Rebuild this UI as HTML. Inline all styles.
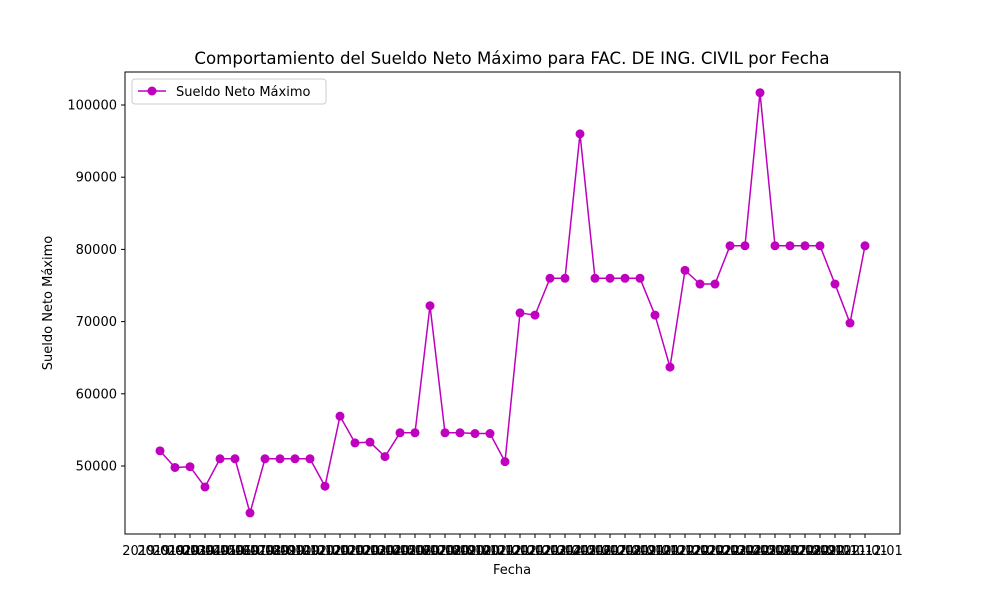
<!DOCTYPE html>
<html><head><meta charset="utf-8"><style>
body{margin:0;background:#fff;font-family:"Liberation Sans","DejaVu Sans",sans-serif}
svg text{font-family:"DejaVu Sans","Liberation Sans",sans-serif}
</style></head><body>
<svg id="c" width="1000" height="600" xmlns="http://www.w3.org/2000/svg">
<rect width="1000" height="600" fill="#fff"/>
<text x="512" y="64" font-size="16.6" text-anchor="middle">Comportamiento del Sueldo Neto Máximo para FAC. DE ING. CIVIL por Fecha</text>
<text x="512" y="574" font-size="13" text-anchor="middle">Fecha</text>
<text transform="translate(52,303) rotate(-90)" font-size="13" text-anchor="middle">Sueldo Neto Máximo</text>
<g id="grid"></g>
<rect x="125" y="72" width="775" height="462" fill="none" stroke="#000" stroke-width="1"/>
<g>
<rect x="132" y="79" width="194" height="25" fill="#fff" stroke="#ccc" rx="3"/>
<line x1="138" y1="91" x2="166" y2="91" stroke="#bf00bf" stroke-width="1.5"/>
<circle cx="152" cy="91" r="4.5" fill="#bf00bf"/>
<text x="176" y="96" font-size="13">Sueldo Neto Máximo</text>
</g>
</svg>
<script>
const values=[52100,49800,49900,47100,51000,51000,43500,51000,51000,51000,51000,47200,56900,53200,53300,51300,54600,54600,72200,54600,54600,54500,54500,50600,71200,70900,76000,76000,96000,76000,76000,76000,76000,70900,63700,77100,75200,75200,80500,80500,101700,80500,80500,80500,80500,75200,69800,80500];
const categories=[];
for(let y=2019;y<=2022;y++)for(let m=1;m<=12;m++)categories.push(y+'-'+String(m).padStart(2,'0')+'-01');
const yTicks=[50000,60000,70000,80000,90000,100000];
const svg=document.getElementById('c'),NS='http://www.w3.org/2000/svg';
const g=document.getElementById('grid');
const xs=i=>160+i*(705/(categories.length-1));
const ys=v=>466-(v-50000)*(361/50000);
function mk(t,a,p){const e=document.createElementNS(NS,t);for(const k in a)e.setAttribute(k,a[k]);(p||svg).appendChild(e);return e;}
yTicks.forEach(v=>{
 const l=mk('line',{x1:121,x2:125,y1:ys(v),y2:ys(v),stroke:'#000'},g);
 
 
 const t=mk('text',{x:117,y:ys(v)+4.5,'font-size':13,'text-anchor':'end'},g);t.textContent=v;
 
 
});
categories.forEach((c,i)=>{
 const l=mk('line',{x1:xs(i),x2:xs(i),y1:534,y2:538,stroke:'#000'},g);
 
 
 const t=mk('text',{x:xs(i),y:555,'font-size':13,'text-anchor':'middle'},g);t.textContent=c;
 
 
});
const pl=mk('polyline',{points:values.map((v,i)=>xs(i)+','+ys(v)).join(' '),fill:'none',stroke:'#bf00bf','stroke-width':1.5});


values.forEach((v,i)=>{
 const c=mk('circle',{cx:xs(i),cy:ys(v),r:4.5,fill:'#bf00bf'});
 
 
});
</script>
</body></html>
